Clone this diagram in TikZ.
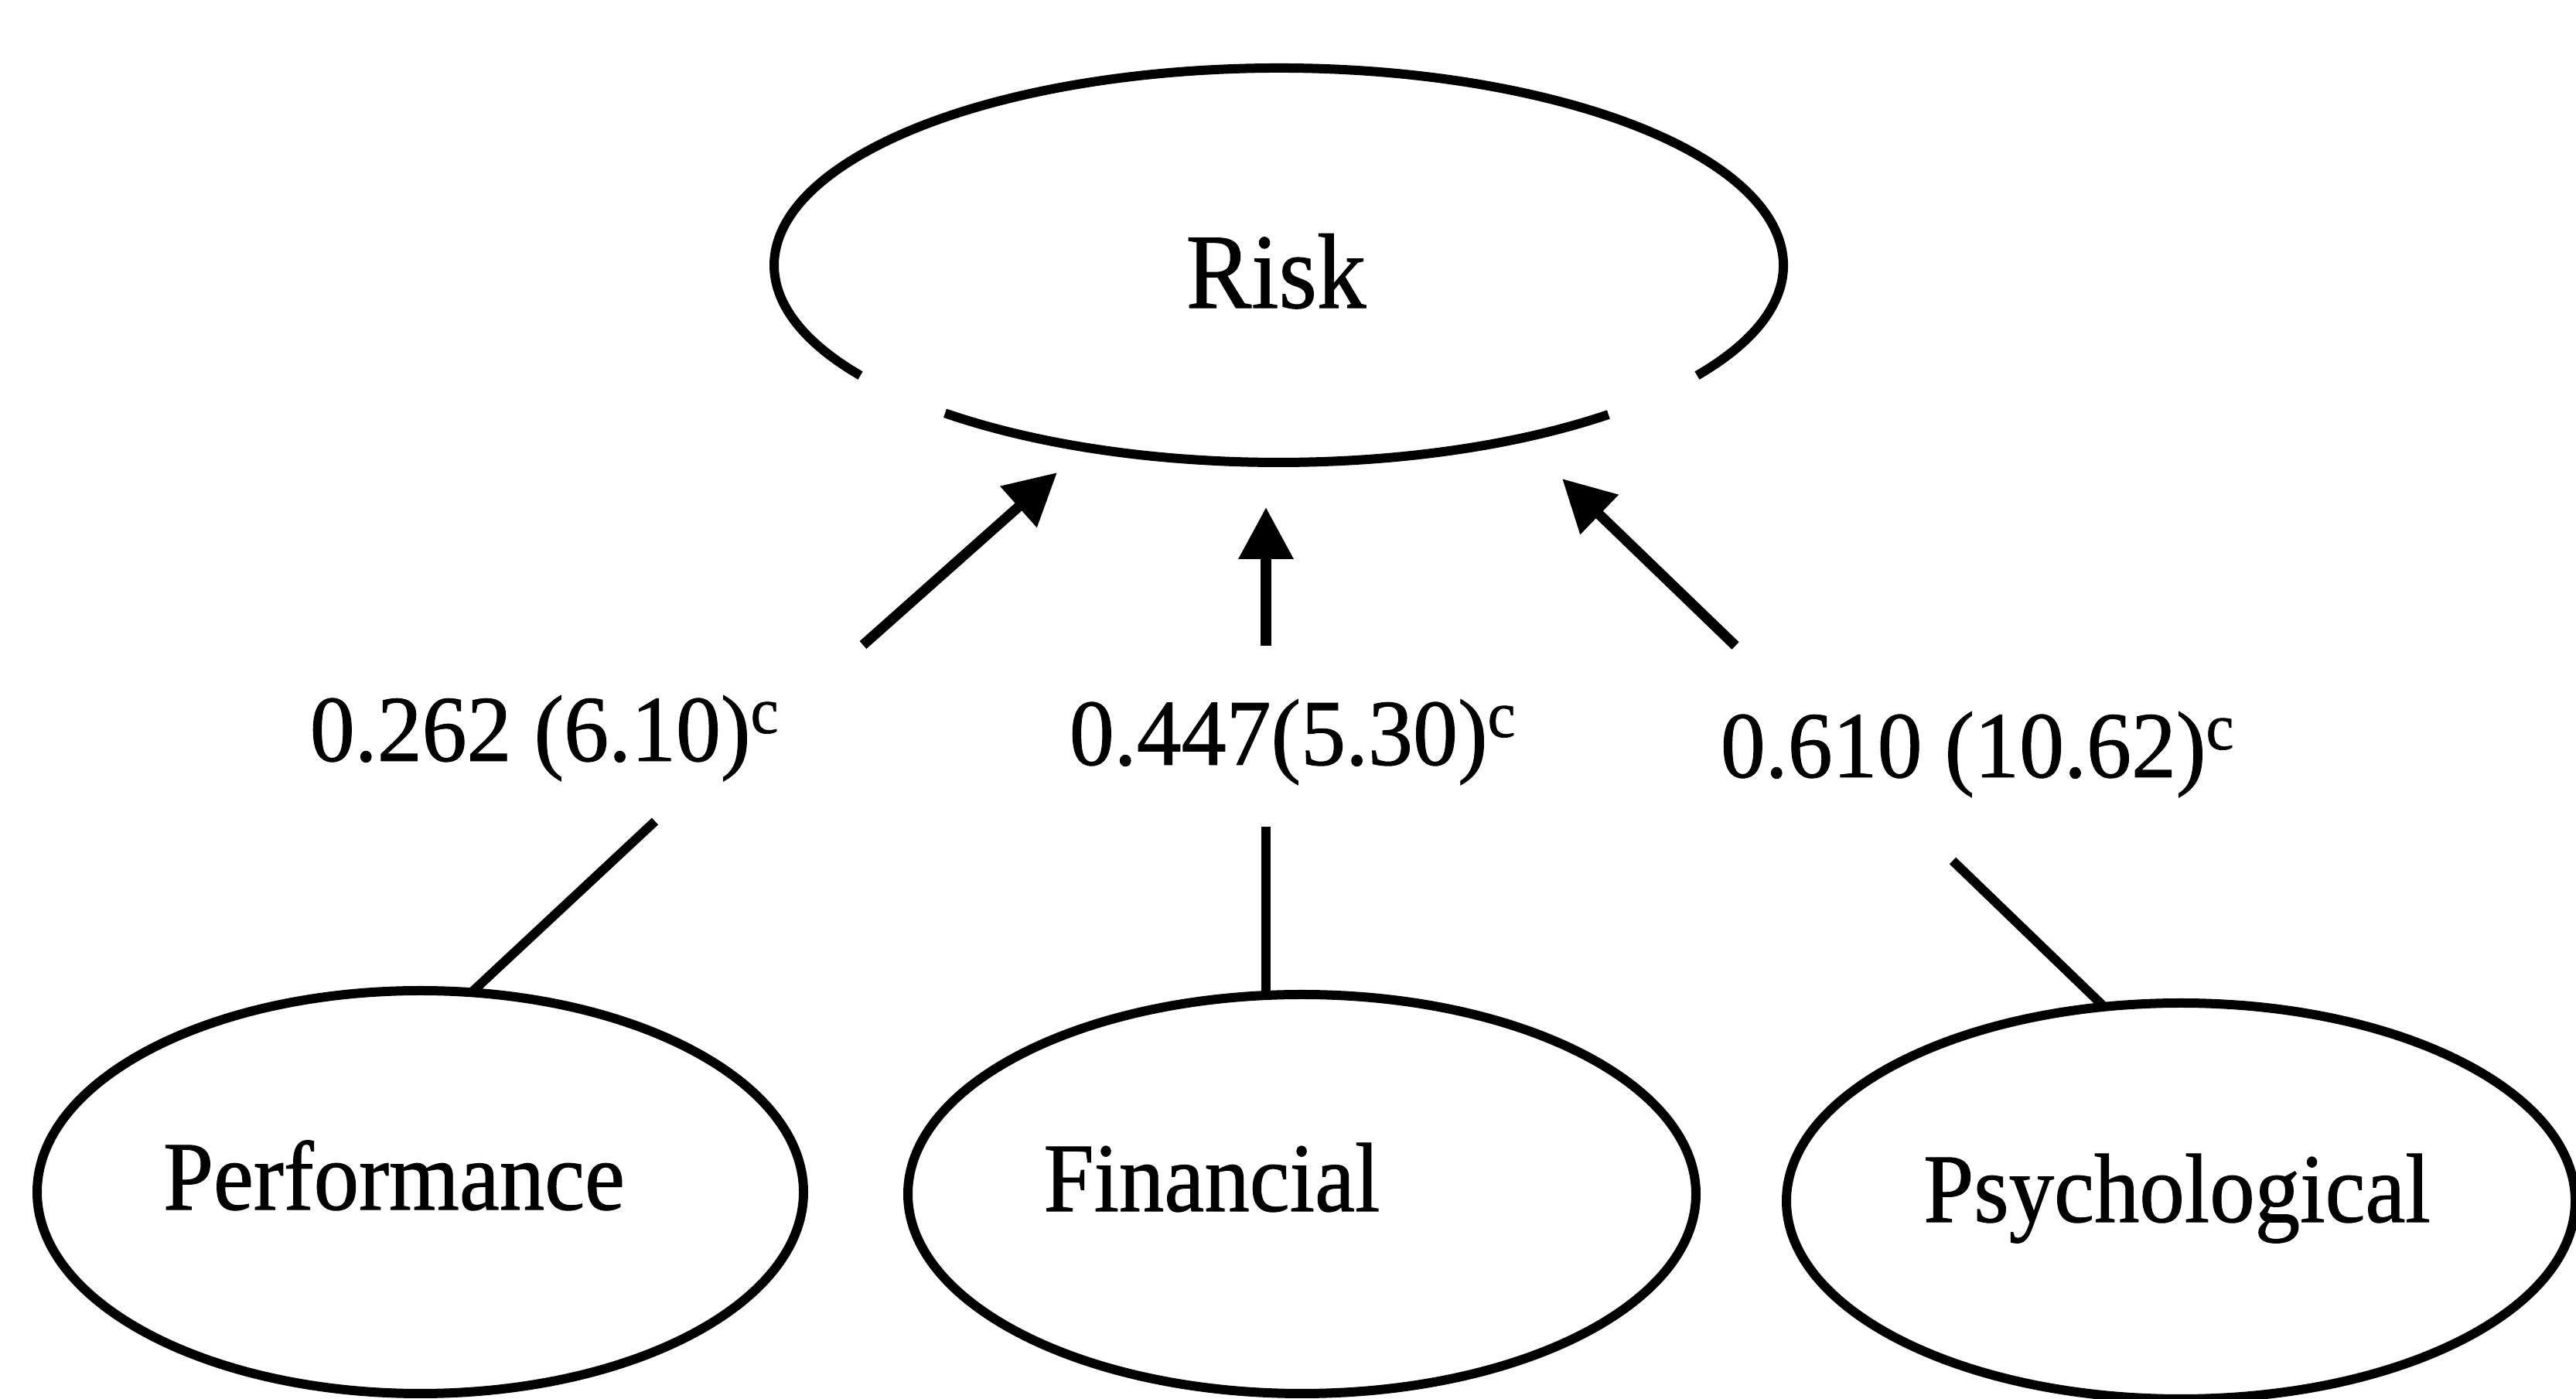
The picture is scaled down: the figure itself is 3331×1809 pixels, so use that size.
\documentclass[tikz,border=0pt]{standalone}
\usepackage{fontspec}
\setmainfont{Liberation Serif}
\newfontfamily\ovalfont[FakeStretch=0.92,FakeBold=0.8]{Liberation Serif}
\newfontfamily\coeffont[FakeStretch=0.95,FakeBold=0.8]{Liberation Serif}
\usetikzlibrary{arrows.meta,shapes.geometric}
\begin{document}
\begin{tikzpicture}[x=0.25pt,y=0.25pt,
  oval/.style={ellipse, draw, line width=3pt, inner sep=0pt, outer sep=0pt},
  ovaltext/.style={anchor=base, inner sep=0pt, font=\ovalfont\fontsize{31.75}{38}\selectfont},
  coef/.style={anchor=base west, inner sep=0pt, font=\coeffont\fontsize{30.5}{36}\selectfont},
  link/.style={line width=3pt},
  effect/.style={line width=3.3pt, -{Triangle[length=16.75pt,width=17pt]}},
]
\useasboundingbox (0,0) rectangle (3331,1809);
\clip (0,0) rectangle (3331,1809);

% latent construct: outline in two arcs, open at the lower sides
\node[ellipse, inner sep=0pt, minimum width=326.25pt, minimum height=127.5pt] (risk) at (1653.5,1466) {};
\node[ovaltext, font=\ovalfont\fontsize{34.5}{41}\selectfont] (risktext) at (1650,1411) {Risk};
\draw[link] (risk.center) ++(-34:652.5 and 255)
  arc[start angle=-34, end angle=214, x radius=652.5, y radius=255];
\draw[link] (risk.center) ++(228.6:652.5 and 255)
  arc[start angle=228.6, end angle=310.8, x radius=652.5, y radius=255];

% dimensions
\node[oval, minimum width=247.75pt, minimum height=130.25pt] (perf) at (543.5,267.5) {};
\node[oval, minimum width=254.75pt, minimum height=129pt] (fin) at (1683.5,265) {};
\node[oval, minimum width=255pt, minimum height=128pt] (psy) at (2820,256) {};
\node[ovaltext] (perftext) at (509.5,245) {Performance};
\node[ovaltext] (fintext) at (1567,243) {Financial};
\node[ovaltext] (psytext) at (2815,229) {Psychological};

% loadings
\node[coef] (c1) at (400,825) {0.262 (6.10)\textsuperscript{c}};
\node[coef] (c2) at (1382,820) {0.447(5.30)\textsuperscript{c}};
\node[coef] (c3) at (2224,804) {0.610 (10.62)\textsuperscript{c}};

% path ends
\coordinate (perfjoin) at (610,526);
\coordinate (perfup) at (847,747);
\coordinate (perftail) at (1116,975);
\coordinate (perftip) at (1367,1198);
\coordinate (finjoin) at (1637,522);
\coordinate (finup) at (1637,740);
\coordinate (fintail) at (1637,974);
\coordinate (fintip) at (1637,1153);
\coordinate (psyjoin) at (2721,507);
\coordinate (psyup) at (2525,696);
\coordinate (psytail) at (2244,974);
\coordinate (psytip) at (2020,1190);

\draw[link] (perfjoin) -- (perfup);
\draw[effect] (perftail) -- (perftip);
\draw[link] (finjoin) -- (finup);
\draw[effect] (fintail) -- (fintip);
\draw[link] (psyjoin) -- (psyup);
\draw[effect] (psytail) -- (psytip);
\end{tikzpicture}
\end{document}
